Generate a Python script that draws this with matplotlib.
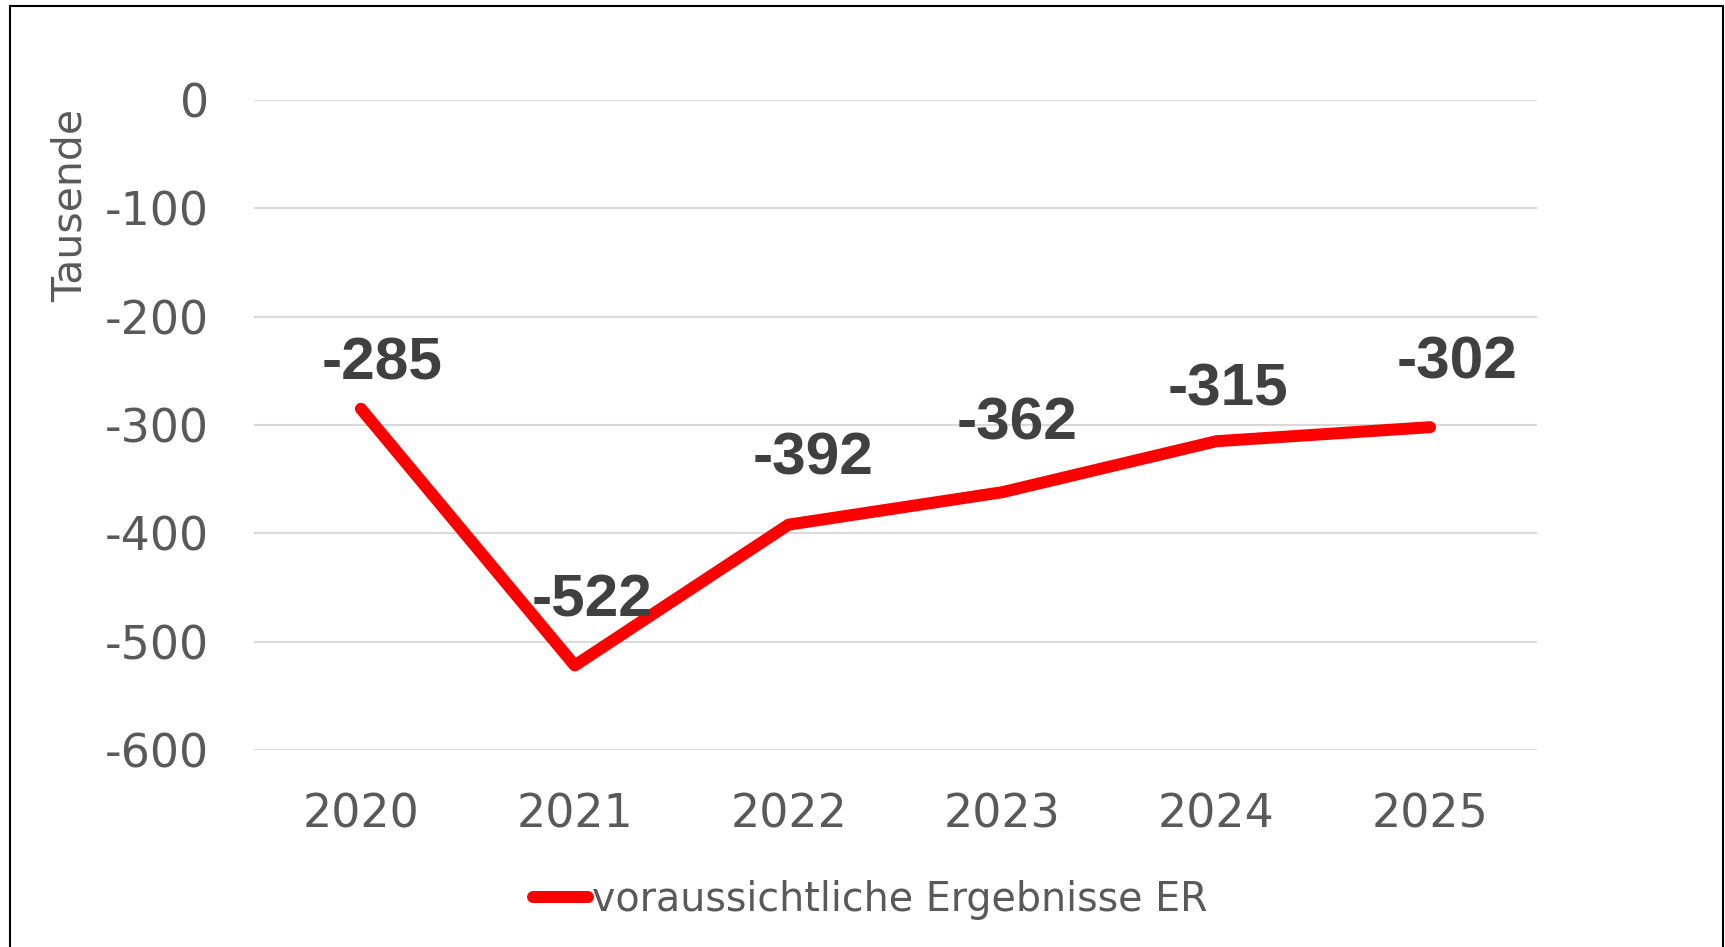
import matplotlib
matplotlib.use("Agg")
import matplotlib.pyplot as plt
from matplotlib.patches import Rectangle

# Data
years = ["2020", "2021", "2022", "2023", "2024", "2025"]
values = [-285, -522, -392, -362, -315, -302]
series_name = "voraussichtliche Ergebnisse ER"
y_ticks = [0, -100, -200, -300, -400, -500, -600]
y_label = "Tausende"

# label offsets in pixels (dx, dy), screen coords (y up)
LABEL_OFFSETS = [(21, 47), (17, 67), (24, 68), (15, 70), (12, 53), (27, 66)]

W, H, DPI = 1725, 947, 100
fig = plt.figure(figsize=(W / DPI, H / DPI), dpi=DPI)
fig.patch.set_facecolor("white")

def px2pt(p):
    return p * 72.0 / DPI

ax_l, ax_r, ax_t, ax_b = 254, 1537, 100, 750
ax = fig.add_axes([ax_l / W, (H - ax_b) / H, (ax_r - ax_l) / W, (ax_b - ax_t) / H])

x = list(range(len(years)))
ax.plot(x, values, color="#ff0000", linewidth=px2pt(12), solid_capstyle="round",
        solid_joinstyle="round", label=series_name, zorder=3)

ax.set_xlim(-0.5, len(years) - 0.5)
ax.set_ylim(-600, 0)
ax.set_yticks(y_ticks)
ax.set_yticklabels([str(v) for v in y_ticks])
ax.set_xticks(x)
ax.set_xticklabels(years)
ax.grid(axis="y", color="#d9d9d9", linewidth=1.5, zorder=0)
ax.set_axisbelow(True)
for s in ax.spines.values():
    s.set_visible(False)
ax.tick_params(axis="both", length=0, labelsize=33, labelcolor="#595959")
ax.tick_params(axis="y", pad=px2pt(45))
ax.tick_params(axis="x", pad=px2pt(42))
for lab in ax.get_xticklabels() + ax.get_yticklabels():
    lab.set_fontfamily("DejaVu Sans")

for i, (v, (dx, dy)) in enumerate(zip(values, LABEL_OFFSETS)):
    ax.annotate(str(v), (i, v), xytext=(px2pt(dx), px2pt(dy - 2)), textcoords="offset points",
                ha="center", va="center", fontsize=43.5, fontweight="bold",
                color="#404040", family="Liberation Sans", zorder=4)

fig.text(71 / W, 1 - 205 / H, y_label, rotation=90, ha="center", va="center",
         fontsize=29.5, color="#595959", family="DejaVu Sans")

leg = fig.legend(loc="center", bbox_to_anchor=(870 / W, 1 - 900 / H), frameon=False,
                 prop={"family": "DejaVu Sans", "size": 28.5}, handlelength=1.4,
                 handletextpad=0.1, labelcolor="#595959")

# outer frame
fig.add_artist(Rectangle((10 / W, -0.05), (1723 - 10) / W, 1.05 - 6.5 / H,
                         transform=fig.transFigure, fill=False, edgecolor="black",
                         linewidth=1.5))

fig.savefig("out.png", dpi=DPI, facecolor="white")
